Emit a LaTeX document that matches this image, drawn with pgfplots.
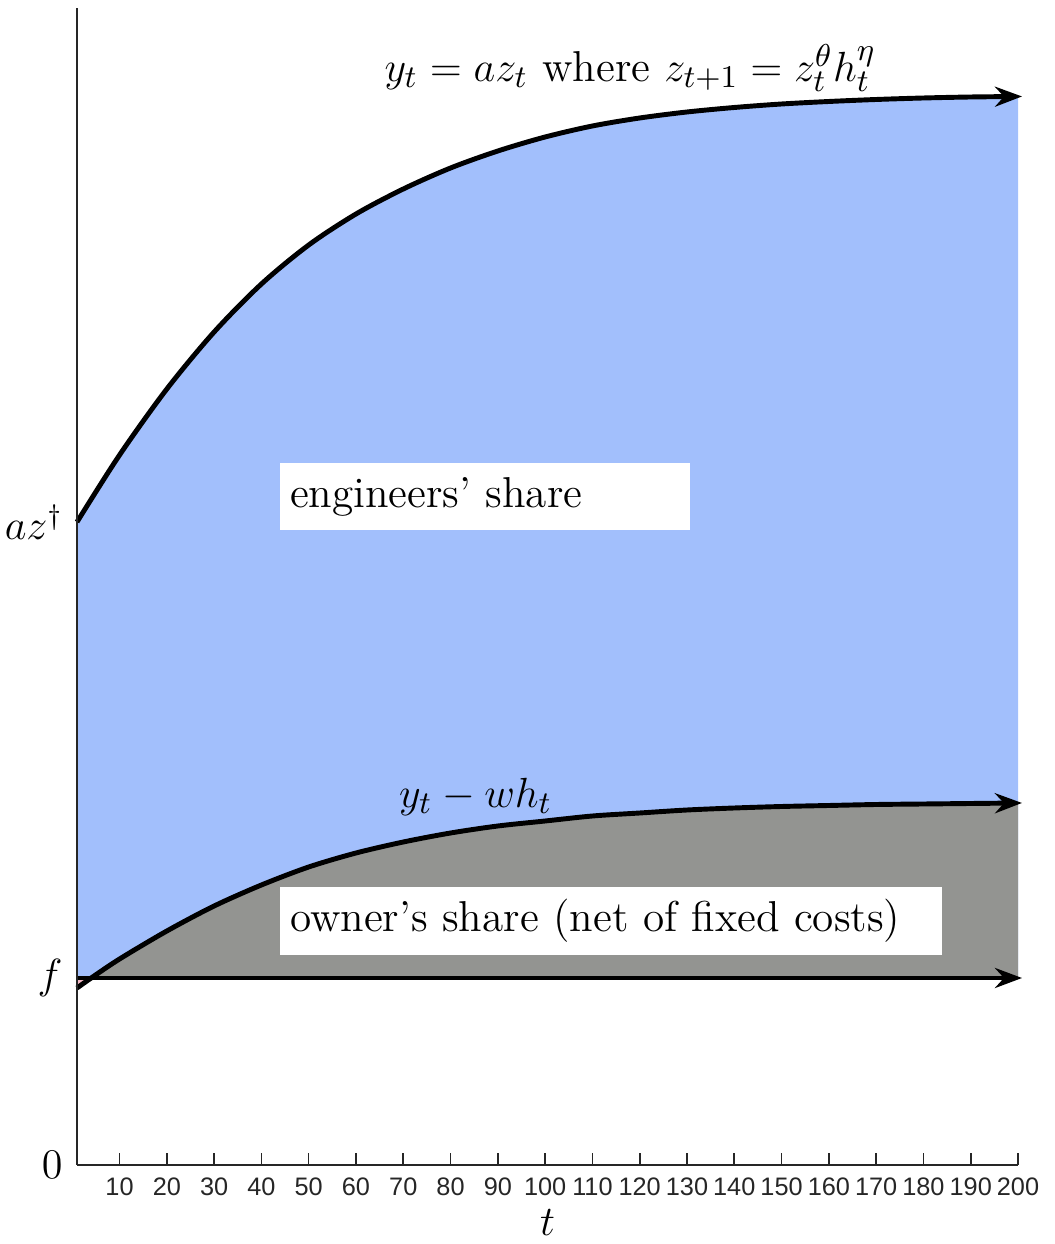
\documentclass[border=0pt]{standalone}
\usepackage{fontspec}
\newfontfamily\ticksans{Liberation Sans}
\usepackage{pgfplots}
\usepackage{pgfplotstable}
\pgfplotsset{compat=1.18}
\usepgfplotslibrary{fillbetween}
\usetikzlibrary{arrows.meta}
\definecolor{engBlue}{HTML}{A2BFFC}
\definecolor{ownGray}{HTML}{939491}
\definecolor{lossPink}{HTML}{F2B8C4}
\definecolor{axGray}{HTML}{262626}

% output y_t = a z_t
\pgfplotstableread{
t y
1 6.43
10 7.10
20 7.76
30 8.33
40 8.81
50 9.20
60 9.51
70 9.76
80 9.97
90 10.14
100 10.28
110 10.39
120 10.47
130 10.53
140 10.575
150 10.61
160 10.635
170 10.655
180 10.67
190 10.68
200 10.685
}\outputtab

% y_t - w h_t
\pgfplotstableread{
t y
1 1.77
4 1.87
10 2.06
20 2.34
30 2.59
40 2.80
50 2.98
60 3.12
70 3.23
80 3.32
90 3.39
100 3.44
110 3.49
120 3.52
130 3.55
140 3.57
150 3.585
160 3.595
170 3.605
180 3.61
190 3.615
200 3.62
}\nettab

% fixed cost f
\pgfplotstableread{
t y
1 1.87
200 1.87
}\fixtab

\begin{document}
\begin{tikzpicture}
\begin{axis}[
    scale only axis,
    width=94.1mm, height=115.7mm,
    xmin=1, xmax=200, ymin=0, ymax=11.57,
    axis x line*=bottom, axis y line*=left,
    axis on top,
    axis line style={axGray, line width=0.45pt},
    xtick={10,20,...,200},
    ytick={0,1.87,6.43},
    yticklabels={$0$,$f$,$az^{\dagger}$},
    tick align=inside,
    major tick length=1.2mm,
    x tick style={axGray, line width=0.45pt},
    y tick style={draw=none},
    /pgf/number format/assume math mode=true,
    xticklabel style={font=\ticksans\fontsize{7.2}{8.5}\selectfont, text=axGray},
    yticklabel style={font=\fontsize{12}{14}\selectfont, xshift=-0.2mm},
    xlabel={$t$},
    xlabel style={font=\fontsize{12.3}{14}\selectfont, yshift=1mm},
    clip=false,
]
\addplot[draw=none, name path=top, smooth] table {\outputtab};
\addplot[draw=none, name path=net, smooth] table {\nettab};
\addplot[draw=none, name path=fix] table {\fixtab};

\addplot[engBlue, draw=none] fill between[of=top and fix];
\addplot[draw=none] fill between[of=net and fix, split,
    every segment no 0/.style={fill=lossPink},
    every segment no 1/.style={fill=ownGray}];

\addplot[black, line width=1.4pt, smooth, shorten >=-0.4mm,
    -{Stealth[length=2.7mm, width=2mm, inset=0.9mm]}] table {\outputtab};
\addplot[black, line width=1.4pt, smooth, shorten >=-0.4mm,
    -{Stealth[length=2.7mm, width=2mm, inset=0.9mm]}] table {\nettab};
\addplot[black, line width=1.4pt, shorten >=-0.4mm,
    -{Stealth[length=2.7mm, width=2mm, inset=0.9mm]}] table {\fixtab};

\node[font=\fontsize{12.3}{14}\selectfont] at (axis cs:118,10.97)
    {$y_t = az_t$ where $z_{t+1} = z_t^{\theta} h_t^{\eta}$};
\node[font=\fontsize{12.3}{14}\selectfont] at (axis cs:85.3,3.68) {$y_t - wh_t$};

\node[fill=white, anchor=west, text width=39mm, inner xsep=1mm,
      minimum height=6.7mm, align=left, font=\fontsize{12.3}{14}\selectfont]
    at (axis cs:43.8,6.685) {engineers' share};
\node[fill=white, anchor=west, text width=64.2mm, inner xsep=1mm,
      minimum height=6.8mm, align=left, font=\fontsize{12.3}{14}\selectfont]
    at (axis cs:43.8,2.44) {owner's share (net of fixed costs)};
\end{axis}
\pgfresetboundingbox
\path ([shift={(-7.7mm,-7.9mm)}]current axis.south west)
    rectangle ([shift={(3.7mm,0.8mm)}]current axis.north east);
\end{tikzpicture}
\end{document}
